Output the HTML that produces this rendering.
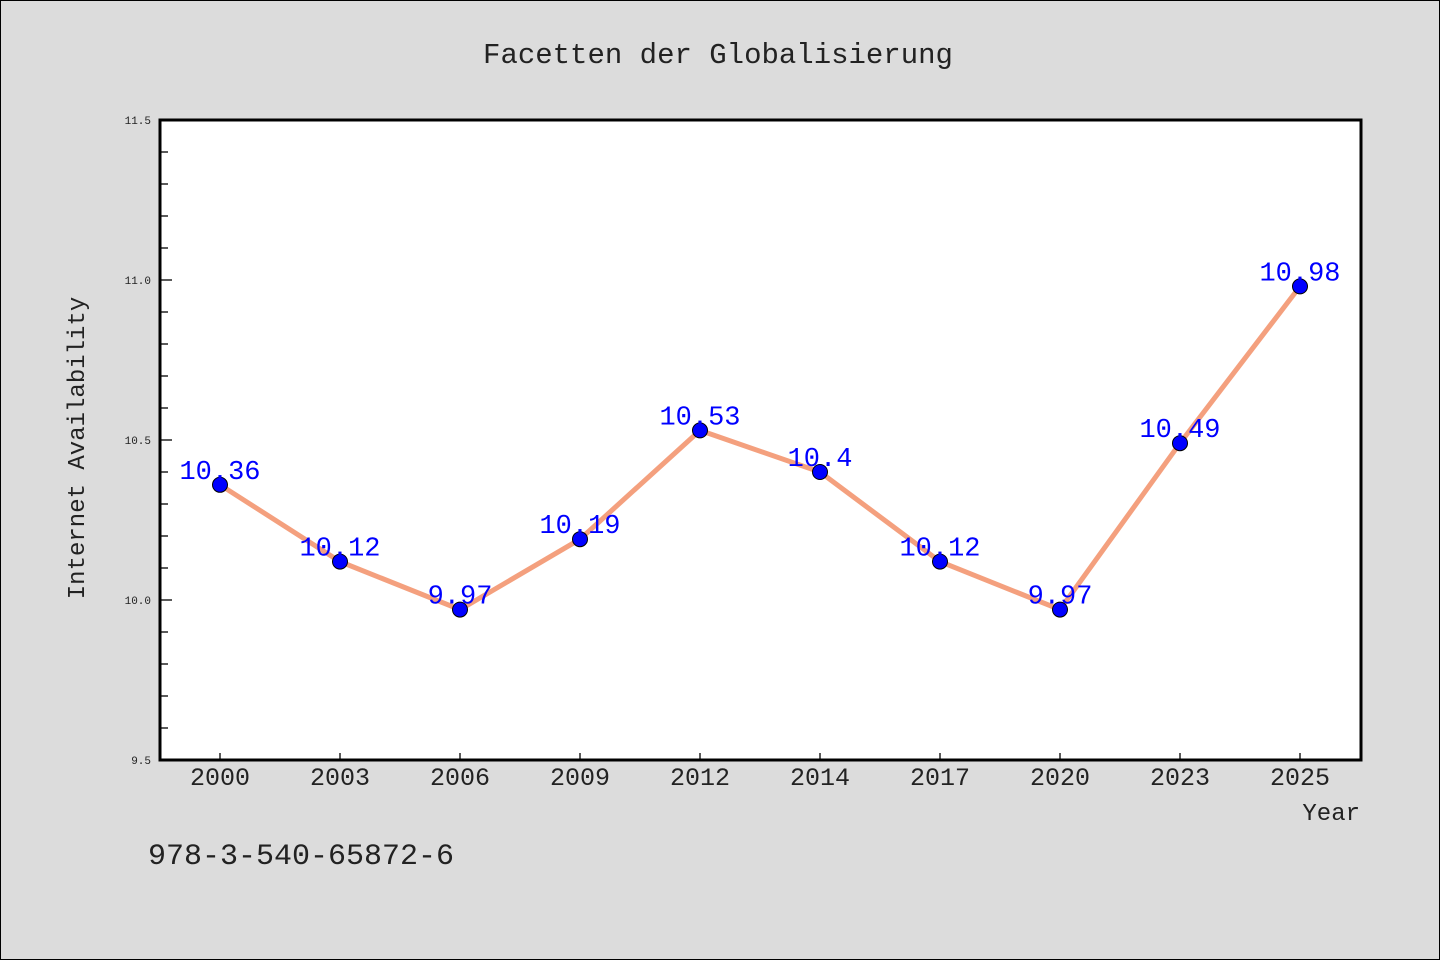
<!DOCTYPE html>
<html><head><meta charset="utf-8"><style>
html,body{margin:0;padding:0;background:#dcdcdc;}
svg{display:block;font-family:"WenQuanYi Zen Hei Mono","Liberation Mono",monospace;}
</style></head><body>
<svg id="chart" width="1440" height="960">
<rect x="0.5" y="0.5" width="1439" height="959" fill="#dcdcdc" stroke="#000"/>
<text x="718" y="63" text-anchor="middle" font-size="29" fill="#222">Facetten der Globalisierung</text>
<rect x="160" y="120" width="1201" height="640" fill="#fff"/>
<g id="yaxis"></g>
<g id="xaxis"></g>
<g id="series"></g>
<rect x="160" y="120" width="1201" height="640" fill="none" stroke="#000" stroke-width="3"/>
<text transform="translate(84,448) rotate(-90)" text-anchor="middle" font-size="24" fill="#222">Internet Availability</text>
<text x="1360" y="820" text-anchor="end" font-size="24" fill="#222">Year</text>
<text x="148" y="864" font-size="30" fill="#222">978-3-540-65872-6</text>
</svg>
<script>
const categories=["2000","2003","2006","2009","2012","2014","2017","2020","2023","2025"];
const values=[10.36,10.12,9.97,10.19,10.53,10.4,10.12,9.97,10.49,10.98];
const valueLabels=["10.36","10.12","9.97","10.19","10.53","10.4","10.12","9.97","10.49","10.98"];
const yTickLabels=["9.5","10.0","10.5","11.0","11.5"];
const yMin=9.5,yMax=11.5;
const NS="http://www.w3.org/2000/svg";
function xS(i){return 220+i*120;}
function yS(v){return 760-(v-yMin)/(yMax-yMin)*640;}
function mk(t,a,p){const e=document.createElementNS(NS,t);for(const k in a)e.setAttribute(k,a[k]);p.appendChild(e);return e;}
const ya=document.getElementById('yaxis'),xa=document.getElementById('xaxis'),sg=document.getElementById('series');
for(let k=0;k<=20;k++){const v=yMin+k*0.1;const major=k%5===0;
 const t=mk('line',{x1:160,x2:160+(major?12:8),y1:yS(v),y2:yS(v),stroke:'#000','stroke-width':1.3},ya);
 }
yTickLabels.forEach(l=>{const t=mk('text',{x:151,y:yS(parseFloat(l))+4,'text-anchor':'end','font-size':11,fill:'#222'},ya);t.textContent=l;
 });
categories.forEach((c,i)=>{const t=mk('line',{x1:xS(i),x2:xS(i),y1:760,y2:753,stroke:'#000','stroke-width':1.3},xa);
 
 const l=mk('text',{x:xS(i),y:785,'text-anchor':'middle','font-size':25,fill:'#222'},xa);l.textContent=c;
 });
const pl=mk('polyline',{points:values.map((v,i)=>xS(i)+','+yS(v)).join(' '),fill:'none',stroke:'#f4a07e','stroke-width':5},sg);

values.forEach((v,i)=>{const c=mk('circle',{cx:xS(i),cy:yS(v),r:7.5,fill:'#0000ff',stroke:'#000','stroke-width':1},sg);
 
 const t=mk('text',{x:xS(i),y:yS(v)-6,'text-anchor':'middle','font-size':27,fill:'#0000ff'},sg);t.textContent=valueLabels[i];
 });
</script>
</body></html>
